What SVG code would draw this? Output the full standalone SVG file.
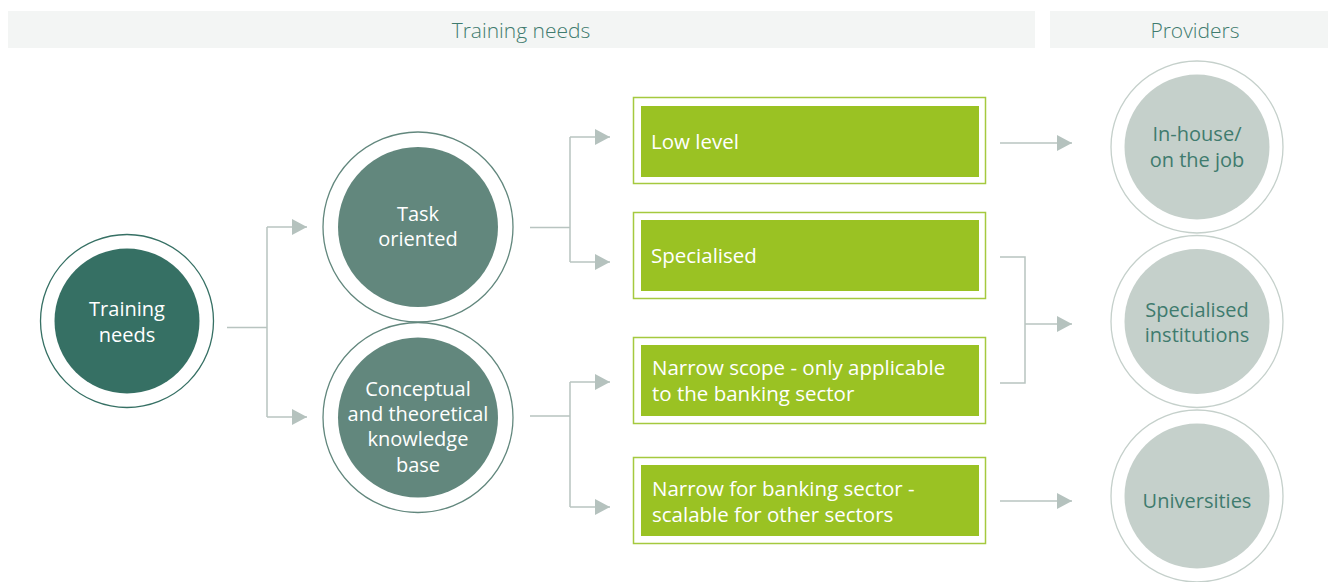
<svg xmlns="http://www.w3.org/2000/svg" width="1328" height="582" viewBox="0 0 1328 582">
<defs>
<marker id="arr" viewBox="0 0 15 16" refX="15" refY="8" markerWidth="15" markerHeight="16" markerUnits="userSpaceOnUse" orient="auto">
<path d="M0,0 L15,8 L0,16 Z" fill="#b5c2be"/>
</marker>
<style>
.hdr{fill:#f3f5f4}
.htxt{font-family:"Open Sans","Noto Sans",sans-serif;font-size:21px;fill:#3f7b6e;text-anchor:middle;font-weight:300}
.ctxt{font-family:"Open Sans","Noto Sans",sans-serif;font-size:20px;text-anchor:middle}
.wt{fill:#ffffff}
.gt{fill:#3f7b6e}
.btxt{font-family:"Open Sans","Noto Sans",sans-serif;font-size:20.5px;fill:#ffffff}
.gout{fill:none;stroke:#a5c93f;stroke-width:1.5}
.gin{fill:#9ac223}
.con{fill:none;stroke:#b8c4c0;stroke-width:1.5}
</style>
</defs>
<rect class="hdr" x="8" y="11" width="1027" height="37"/>
<rect class="hdr" x="1050" y="11" width="278" height="37"/>
<text class="htxt" x="521" y="38">Training needs</text>
<text class="htxt" x="1195" y="38">Providers</text>

<g id="connectors">
<path class="con" d="M227,327.5 H267 M267,227 V417"/>
<path class="con" d="M267,227 H307" marker-end="url(#arr)"/>
<path class="con" d="M267,417 H307" marker-end="url(#arr)"/>
<path class="con" d="M530,227.5 H570 M570,137 V262"/>
<path class="con" d="M570,137 H610" marker-end="url(#arr)"/>
<path class="con" d="M570,262 H610" marker-end="url(#arr)"/>
<path class="con" d="M530,416 H570 M570,382 V507"/>
<path class="con" d="M570,382 H610" marker-end="url(#arr)"/>
<path class="con" d="M570,507 H610" marker-end="url(#arr)"/>
<path class="con" d="M1000,143 H1072" marker-end="url(#arr)"/>
<path class="con" d="M1000,257 H1025 V383 H1000"/>
<path class="con" d="M1025,324 H1072" marker-end="url(#arr)"/>
<path class="con" d="M1000,501 H1072" marker-end="url(#arr)"/>
</g>

<g id="node-training-needs">
<circle cx="127" cy="321" r="86.5" fill="#ffffff" stroke="#367064" stroke-width="1.3"/>
<circle cx="127" cy="321" r="72.5" fill="#367064"/>
<text class="ctxt wt" x="127" y="316">Training</text>
<text class="ctxt wt" x="127" y="342">needs</text>
</g>

<g id="node-task-oriented">
<circle cx="418" cy="227" r="95" fill="#ffffff" stroke="#62877d" stroke-width="1.3"/>
<circle cx="418" cy="227" r="80" fill="#62877d"/>
<text class="ctxt wt" x="418" y="221">Task</text>
<text class="ctxt wt" x="418" y="246">oriented</text>
</g>

<g id="node-conceptual">
<circle cx="418" cy="417.5" r="95" fill="#ffffff" stroke="#62877d" stroke-width="1.3"/>
<circle cx="418" cy="417.5" r="80" fill="#62877d"/>
<text class="ctxt wt" x="418" y="396">Conceptual</text>
<text class="ctxt wt" x="418" y="421">and theoretical</text>
<text class="ctxt wt" x="418" y="446">knowledge</text>
<text class="ctxt wt" x="418" y="472">base</text>
</g>

<g id="node-low-level">
<rect class="gout" x="633.5" y="97.5" width="352" height="86"/>
<rect class="gin" x="641" y="106" width="338" height="71"/>
<text class="btxt" x="651" y="149">Low level</text>
</g>

<g id="node-specialised">
<rect class="gout" x="633.5" y="212.5" width="352" height="86"/>
<rect class="gin" x="641" y="220" width="338" height="71"/>
<text class="btxt" x="651" y="263">Specialised</text>
</g>

<g id="node-narrow-scope">
<rect class="gout" x="633.5" y="337.5" width="352" height="86"/>
<rect class="gin" x="641" y="345" width="338" height="71"/>
<text class="btxt" x="652" y="375">Narrow scope - only applicable</text>
<text class="btxt" x="652" y="401">to the banking sector</text>
</g>

<g id="node-narrow-banking">
<rect class="gout" x="633.5" y="457.5" width="352" height="86"/>
<rect class="gin" x="641" y="465" width="338" height="71"/>
<text class="btxt" x="652" y="496">Narrow for banking sector -</text>
<text class="btxt" x="652" y="522">scalable for other sectors</text>
</g>

<g id="node-inhouse">
<circle cx="1197" cy="147" r="86" fill="#ffffff" stroke="#c5d0cb" stroke-width="1.3"/>
<circle cx="1197" cy="147" r="72.5" fill="#c5d0cb"/>
<text class="ctxt gt" x="1197" y="141">In-house/</text>
<text class="ctxt gt" x="1197" y="167">on the job</text>
</g>

<g id="node-specialised-institutions">
<circle cx="1197" cy="321.5" r="86" fill="#ffffff" stroke="#c5d0cb" stroke-width="1.3"/>
<circle cx="1197" cy="321.5" r="72.5" fill="#c5d0cb"/>
<text class="ctxt gt" x="1197" y="317">Specialised</text>
<text class="ctxt gt" x="1197" y="342">institutions</text>
</g>

<g id="node-universities">
<circle cx="1197" cy="496" r="86" fill="#ffffff" stroke="#c5d0cb" stroke-width="1.3"/>
<circle cx="1197" cy="496" r="72.5" fill="#c5d0cb"/>
<text class="ctxt gt" x="1197" y="508">Universities</text>
</g>
</svg>
